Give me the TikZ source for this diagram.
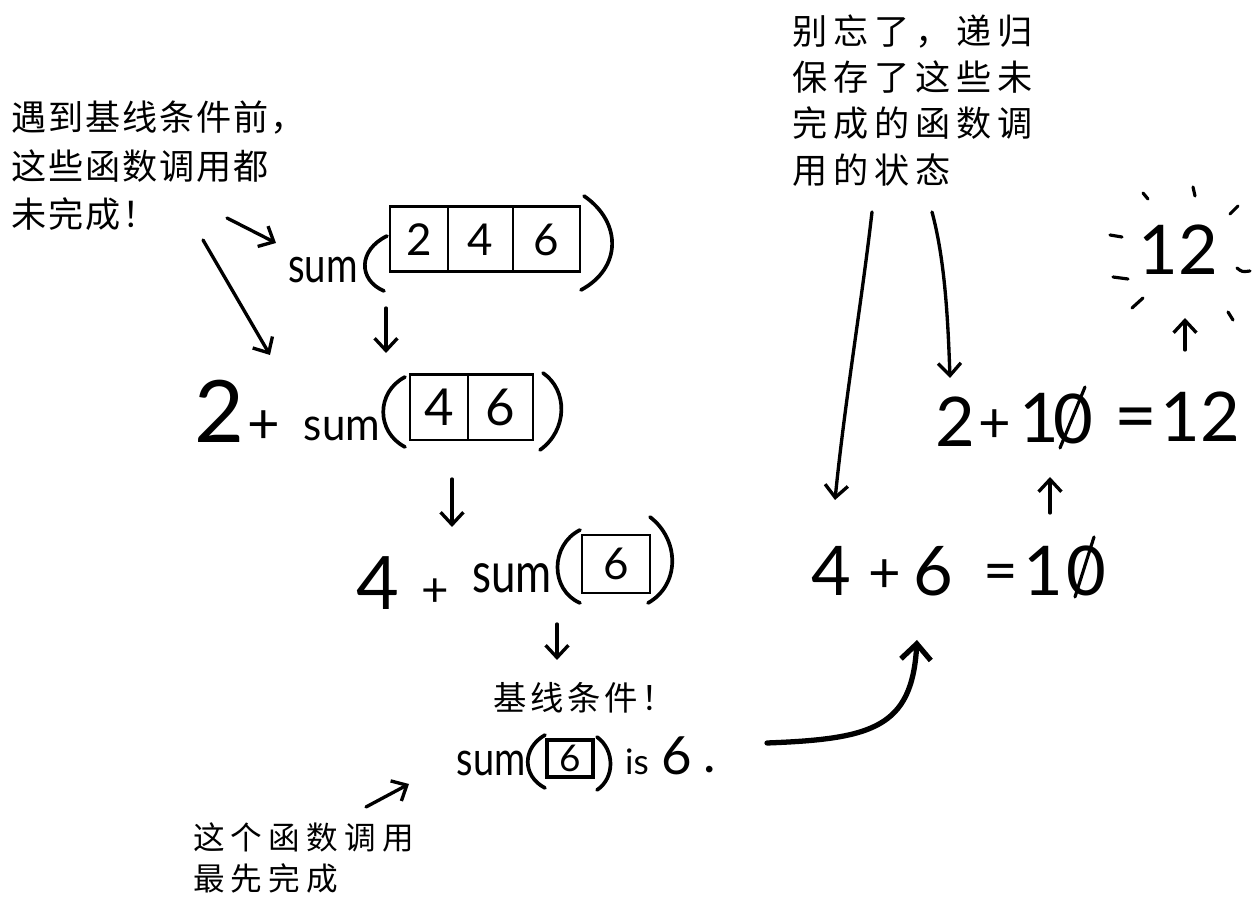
\documentclass[tikz,border=0pt]{standalone}
\usepackage{fontspec}
\usepackage{graphicx}
\usetikzlibrary{arrows.meta}
\newfontfamily\hand{Lato}
\newfontfamily\cjkA[LetterSpace=5]{Noto Sans CJK SC}
\newfontfamily\cjkB[LetterSpace=17]{Noto Sans CJK SC}
\newfontfamily\cjkC[LetterSpace=20]{Noto Sans CJK SC}
\newfontfamily\cjkD[LetterSpace=11]{Noto Sans CJK SC}
\newcommand{\hsz}[1]{\fontsize{#1}{#1}\selectfont}
\tikzset{
  every node/.style={inner sep=0pt, outer sep=0pt},
  cjkline/.style={anchor=base west, text=black},
  ink/.style={line width=1.9pt, line cap=round, line join=round},
  harrow/.style={ink, -{Straight Barb[length=7pt,width=13pt]}},
  bigarrow/.style={line width=3pt, line cap=round, -{Straight Barb[length=9pt,width=17pt]}},
  paren/.style={line width=2.1pt, line cap=round},
  cell/.style={draw, line width=1.7pt},
  ray/.style={line width=1.8pt, line cap=round},
}
\begin{document}
\begin{tikzpicture}[x=0.2mm,y=-0.2mm]
\fill[white] (0,0) rectangle (1258,901);
\useasboundingbox (0,0) rectangle (1258,901);

% ---------- top-left annotation ----------
\node[cjkline, font=\cjkA\hsz{20}] (tl1) at (12,131) {遇到基线条件前，};
\node[cjkline, font=\cjkA\hsz{20}] (tl2) at (12,180) {这些函数调用都};
\node[cjkline, font=\cjkA\hsz{20}] (tl3) at (12,228) {未完成！};

% ---------- row 1 : sum([2|4|6]) ----------
\node[font=\hand\hsz{28}] (s1) at (323,270) {\scalebox{0.78}[1]{sum}};
\draw[paren] (387,236) .. controls (358,250) and (358,280) .. (384,291);
\node[cell, minimum width=11.6mm, minimum height=13mm, font=\hand\hsz{25}] (c11) at (419,239.5) {2};
\node[cell, minimum width=13mm, minimum height=13mm, font=\hand\hsz{25}] (c12) at (480.5,239.5) {4};
\node[cell, minimum width=13.4mm, minimum height=13mm, font=\hand\hsz{25}] (c13) at (546.5,239.5) {6};
\draw[paren] (584,196) .. controls (622,222) and (622,268) .. (581,290);

% arrows to row 1/2 from annotation
\coordinate (sa1) at (227,218); \coordinate (sa2) at (276,243);
\draw[harrow] (sa1) -- (sa2);
\coordinate (la1) at (203,240); \coordinate (la2) at (270,355);
\draw[harrow] (la1) -- (la2);

\coordinate (d1s) at (386,308); \coordinate (d1e) at (386,353);
\draw[harrow] (d1s) -- (d1e);

% ---------- row 2 : 2 + sum([4|6]) ----------
\node[font=\hand\hsz{49}] (r2two) at (219,411) {2};
\node[font=\hand\hsz{32}] (r2plus) at (264,427) {+};
\node[font=\hand\hsz{26}] (s2) at (342,429) {\scalebox{0.92}[1]{sum}};
\draw[paren] (405,377) .. controls (376,392) and (376,432) .. (405,447);
\node[cell, minimum width=11.6mm, minimum height=13mm, font=\hand\hsz{29}] (c21) at (439,407.5) {4};
\node[cell, minimum width=13mm, minimum height=13mm, font=\hand\hsz{29}] (c22) at (500.5,407.5) {6};
\draw[paren] (543,373) .. controls (568,390) and (568,430) .. (540,450);

\coordinate (d2s) at (452,479); \coordinate (d2e) at (452,527);
\draw[harrow] (d2s) -- (d2e);

% ---------- row 3 : 4 + sum([6]) ----------
\node[font=\hand\hsz{42}] (r3four) at (378,583) {4};
\node[font=\hand\hsz{27}] (r3plus) at (435,593) {+};
\node[font=\hand\hsz{32}] (s3) at (512,578) {\scalebox{0.78}[1]{sum}};
\draw[paren] (580,530) .. controls (550,545) and (550,590) .. (580,603);
\node[cell, minimum width=13.6mm, minimum height=11.6mm, font=\hand\hsz{25}] (c31) at (616,564) {6};
\draw[paren] (650,517) .. controls (680,540) and (680,585) .. (648,603);

\coordinate (d3s) at (557,624); \coordinate (d3e) at (557,660);
\draw[harrow] (d3s) -- (d3e);

% ---------- base case ----------
\node[cjkline, font=\cjkD\hsz{19}] (bc) at (493,711) {基线条件！};
\node[font=\hand\hsz{27}] (s4) at (491,763) {\scalebox{0.8}[1]{sum}};
\draw[paren] (545,735) .. controls (522,748) and (522,776) .. (545,788);
\node[cell, line width=2.4pt, minimum width=9.2mm, minimum height=7.4mm, font=\hand\hsz{21}] (c41) at (570,758.5) {6};
\draw[paren] (597,737) .. controls (615,750) and (615,778) .. (597,790);
\node[font=\hand\hsz{20}] (is4) at (637,762) {is};
\node[font=\hand\hsz{30}] (six4) at (677,756) {6};
\node[font=\hand\hsz{30}] (dot4) at (710,770) {.};

% bottom caption
\node[cjkline, font=\cjkC\hsz{18}] (bt1) at (193,850) {这个函数调用};
\node[cjkline, font=\cjkC\hsz{18}] (bt2) at (193,891) {最先完成};
\coordinate (ba1) at (366,807); \coordinate (ba2) at (409,784);
\draw[harrow] (ba1) -- (ba2);

% curved arrow up
\coordinate (ca1) at (767,743); \coordinate (ca2) at (917,640);
\draw[bigarrow] (ca1) .. controls (872,739) and (912,728) .. (ca2);

% ---------- right annotation ----------
\node[cjkline, font=\cjkB\hsz{20}] (tr1) at (792,45) {别忘了，递归};
\node[cjkline, font=\cjkB\hsz{20}] (tr2) at (792,91) {保存了这些未};
\node[cjkline, font=\cjkB\hsz{20}] (tr3) at (792,137) {完成的函数调};
\node[cjkline, font=\cjkB\hsz{20}] (tr4) at (792,184) {用的状态};

\coordinate (ra1) at (872,212); \coordinate (ra2) at (835,500);
\draw[harrow] (ra1) .. controls (862,300) and (845,400) .. (ra2);
\coordinate (rb1) at (932,212); \coordinate (rb2) at (950,378);
\draw[harrow] (rb1) .. controls (945,260) and (948,320) .. (rb2);

% ---------- 4 + 6 = 10 ----------
\node[font=\hand\hsz{39}] (q4) at (831,571) {4};
\node[font=\hand\hsz{32}] (qp) at (885,576) {+};
\node[font=\hand\hsz{39}] (q6) at (933,571) {6};
\node[font=\hand\hsz{34}] (qe) at (1001,578) {=};
\node[font=\hand\hsz{39}] (q1) at (1043,571) {1};
\node[font=\hand\hsz{39}] (q0) at (1086,571) {0};
\draw[ray] (1075,597) -- (1094,537);

\coordinate (u1s) at (1050,513); \coordinate (u1e) at (1050,477);
\draw[harrow] (u1s) -- (u1e);

% ---------- 2 + 10 = 12 ----------
\node[font=\hand\hsz{39}] (p2) at (955,422) {2};
\node[font=\hand\hsz{32}] (pp) at (995,426) {+};
\node[font=\hand\hsz{39}] (p1) at (1039,418) {1};
\node[font=\hand\hsz{39}] (p0) at (1073,419) {0};
\draw[ray] (1060,448) -- (1085,387);
\node[font=\hand\hsz{42}] (pe) at (1136,425) {=};
\node[font=\hand\hsz{39}] (p12) at (1200,417) {12};

\coordinate (u2s) at (1185,350); \coordinate (u2e) at (1185,318);
\draw[harrow] (u2s) -- (u2e);

% ---------- 12 with rays ----------
\node[font=\hand\hsz{39}] (res) at (1178,250) {12};
\draw[ray] (1143,193) -- (1148,199);
\draw[ray] (1193,187) -- (1195,196);
\draw[ray] (1230,214) -- (1238,206);
\draw[ray] (1110,235) -- (1122,237);
\draw[ray] (1113,277) -- (1128,279);
\draw[ray] (1237,268) .. controls (1242,272) .. (1250,271);
\draw[ray] (1132,308) -- (1143,298);
\draw[ray] (1228,312) -- (1233,320);
\end{tikzpicture}
\end{document}
